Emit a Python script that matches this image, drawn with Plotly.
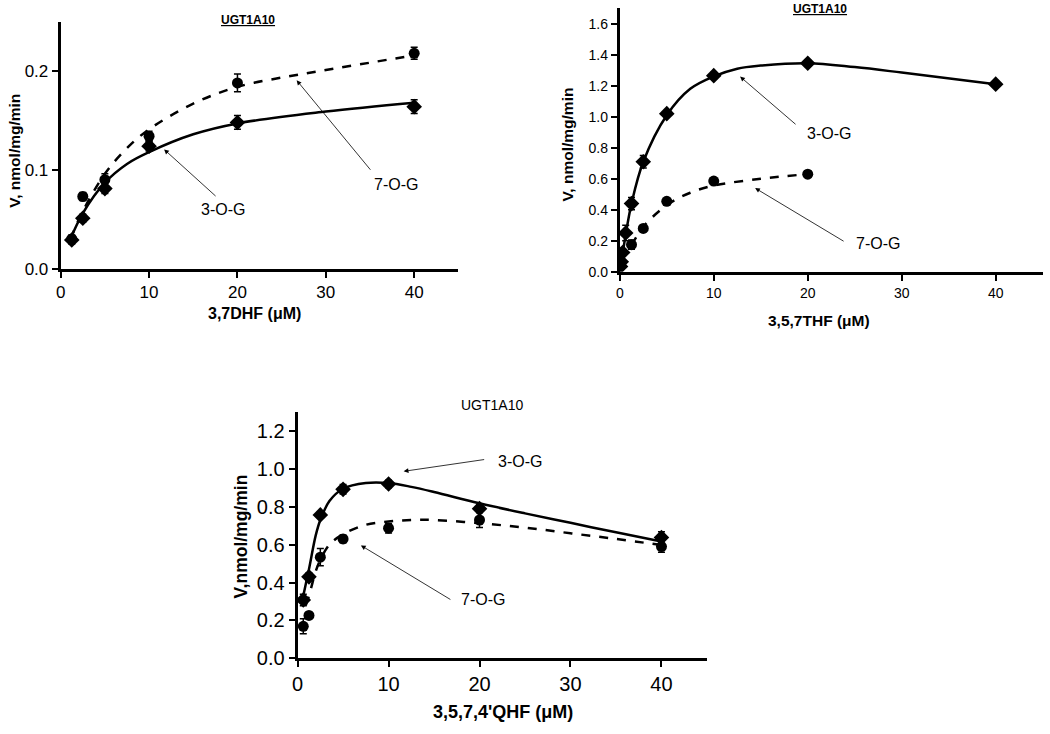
import plotly.graph_objects as go

# ---------------- Panel 1: 3,7DHF ----------------
p1_x = [1.25, 2.5, 5, 10, 20, 40]
p1_3OG = [0.029, 0.051, 0.081, 0.124, 0.148, 0.164]
p1_3OG_err = [0.004, 0.004, 0.005, 0.005, 0.007, 0.007]
p1_7OG = [0.030, 0.073, 0.090, 0.134, 0.188, 0.218]
p1_7OG_err = [0.004, 0.004, 0.006, 0.005, 0.009, 0.006]
p1_fit_x = [1.1, 2.5, 5, 7.5, 10, 15, 20, 30, 40]
p1_fit_3OG = [0.030, 0.056, 0.087, 0.106, 0.118, 0.136, 0.147, 0.159, 0.168]
p1_fit_7OG_x = [1.1, 2.5, 5, 7.5, 10, 15, 20, 26, 30, 40]
p1_fit_7OG = [0.030, 0.058, 0.096, 0.122, 0.141, 0.167, 0.184, 0.195, 0.201, 0.216]

# ---------------- Panel 2: 3,5,7THF ----------------
p2_x3 = [0.08, 0.16, 0.31, 0.63, 1.25, 2.5, 5, 10, 20, 40]
p2_3OG = [0.035, 0.065, 0.125, 0.25, 0.44, 0.71, 1.02, 1.265, 1.345, 1.21]
p2_3OG_err = [0.01, 0.01, 0.02, 0.05, 0.04, 0.04, 0.015, 0.02, 0.02, 0.01]
p2_x7 = [1.25, 2.5, 5, 10, 20]
p2_7OG = [0.175, 0.28, 0.455, 0.585, 0.63]
p2_7OG_err = [0.03, 0.015, 0.01, 0.01, 0.02]
p2_fit3_x = [0, 0.31, 0.63, 1.25, 2.5, 5, 7.5, 10, 12.5, 15, 20, 25, 30, 40]
p2_fit3 = [0.02, 0.12, 0.24, 0.44, 0.71, 1.01, 1.18, 1.26, 1.31, 1.33, 1.345, 1.32, 1.285, 1.21]
p2_fit7_x = [1.25, 2.5, 5, 7.5, 10, 15, 20]
p2_fit7 = [0.17, 0.29, 0.43, 0.51, 0.556, 0.60, 0.63]

# ---------------- Panel 3: 3,5,7,4'QHF ----------------
p3_x = [0.625, 1.25, 2.5, 5, 10, 20, 40]
p3_3OG = [0.308, 0.43, 0.757, 0.892, 0.92, 0.79, 0.638]
p3_3OG_err = [0.03, 0.02, 0.01, 0.025, 0.02, 0.02, 0.03]
p3_7OG = [0.169, 0.226, 0.534, 0.63, 0.687, 0.73, 0.59]
p3_7OG_err = [0.04, 0.015, 0.045, 0.02, 0.025, 0.04, 0.03]
p3_fit3_x = [0.45, 1.25, 2, 2.5, 3.5, 5, 7.5, 10, 12.5, 15, 20, 25, 30, 35, 40]
p3_fit3 = [0.29, 0.47, 0.65, 0.73, 0.83, 0.895, 0.925, 0.925, 0.905, 0.878, 0.818, 0.765, 0.715, 0.665, 0.617]
p3_fit7_x = [0.9, 1.25, 2, 2.5, 3.5, 5, 7.5, 10, 12.5, 15, 20, 25, 30, 35, 40]
p3_fit7 = [0.28, 0.33, 0.46, 0.52, 0.60, 0.655, 0.705, 0.722, 0.73, 0.73, 0.713, 0.69, 0.66, 0.63, 0.598]

ticks_x = [0, 10, 20, 30, 40]
p1_ticks_y = [0.0, 0.1, 0.2]
p2_ticks_y = [0.0, 0.2, 0.4, 0.6, 0.8, 1.0, 1.2, 1.4, 1.6]
p3_ticks_y = [0.0, 0.2, 0.4, 0.6, 0.8, 1.0, 1.2]

FONT = "Arial, Liberation Sans, sans-serif"
fig = go.Figure()


def add_panel(xa, ya, xs3, y3, e3, xs7, y7, e7, fx3, f3, fx7, f7):
    fig.add_trace(go.Scatter(x=fx3, y=f3, mode="lines", line=dict(color="black", width=2.5, shape="spline"),
                             xaxis=xa, yaxis=ya, showlegend=False, hoverinfo="skip"))
    fig.add_trace(go.Scatter(x=fx7, y=f7, mode="lines", line=dict(color="black", width=2.5, dash="dash", shape="spline"),
                             xaxis=xa, yaxis=ya, showlegend=False, hoverinfo="skip"))
    fig.add_trace(go.Scatter(x=xs3, y=y3, mode="markers", marker=dict(symbol="diamond", size=12, color="black"),
                             error_y=dict(type="data", array=e3, color="black", thickness=1.5, width=3.5),
                             xaxis=xa, yaxis=ya, showlegend=False))
    fig.add_trace(go.Scatter(x=xs7, y=y7, mode="markers", marker=dict(symbol="circle", size=11, color="black"),
                             error_y=dict(type="data", array=e7, color="black", thickness=1.5, width=3.5),
                             xaxis=xa, yaxis=ya, showlegend=False))


add_panel("x", "y", p1_x, p1_3OG, p1_3OG_err, p1_x, p1_7OG, p1_7OG_err,
          p1_fit_x, p1_fit_3OG, p1_fit_7OG_x, p1_fit_7OG)
add_panel("x2", "y2", p2_x3, p2_3OG, p2_3OG_err, p2_x7, p2_7OG, p2_7OG_err,
          p2_fit3_x, p2_fit3, p2_fit7_x, p2_fit7)
add_panel("x3", "y3", p3_x, p3_3OG, p3_3OG_err, p3_x, p3_7OG, p3_7OG_err,
          p3_fit3_x, p3_fit3, p3_fit7_x, p3_fit7)


def xaxis(domain, anchor, fs):
    return dict(domain=domain, anchor=anchor, range=[0, 45], tickvals=ticks_x, showline=True, linecolor="black",
                linewidth=3, ticks="outside", ticklen=6, tickwidth=2, tickcolor="black", showgrid=False,
                zeroline=False, tickfont=dict(family=FONT, size=fs, color="black"))


def yaxis(domain, anchor, rng, tv, fs):
    return dict(domain=domain, anchor=anchor, range=rng, tickvals=tv, tickformat=".1f", showline=True,
                linecolor="black", linewidth=3, ticks="outside", ticklen=6, tickwidth=2, tickcolor="black",
                showgrid=False, zeroline=False, tickfont=dict(family=FONT, size=fs, color="black"))


fig.update_layout(
    width=1050, height=734, margin=dict(l=0, r=0, t=0, b=0),
    paper_bgcolor="white", plot_bgcolor="white",
    xaxis=xaxis([0.0524, 0.4333], "y", 17),
    yaxis=yaxis([0.6285, 0.970], "x", [0, 0.25], p1_ticks_y, 17),
    xaxis2=xaxis([0.5879, 0.9930], "y2", 14),
    yaxis2=yaxis([0.6240, 0.9887], "x2", [0, 1.7], p2_ticks_y, 14),
    xaxis3=xaxis([0.2793, 0.6714], "y3", 20),
    yaxis3=yaxis([0.0895, 0.4301], "x3", [0, 1.3], p3_ticks_y, 20),
)

ann = []


def text(x, y, s, size=15, bold=False, angle=0, under=False, yanchor="middle"):
    t = s
    if bold:
        t = "<b>" + t + "</b>"
    if under:
        t = "<u>" + t + "</u>"
    ann.append(dict(x=x / 1050, y=1 - y / 734, xref="paper", yref="paper", text=t, showarrow=False,
                    textangle=angle, font=dict(family=FONT, size=size, color="black"),
                    xanchor="center", yanchor=yanchor))


def arrow(xr, yr, hx, hy, ax, ay):
    ann.append(dict(x=hx, y=hy, xref=xr, yref=yr, ax=ax, ay=ay, axref="pixel", ayref="pixel", text="",
                    showarrow=True, arrowhead=2, arrowsize=1.2, arrowwidth=0.8, arrowcolor="black"))


# Panel 1 labels
text(243, 11, "UGT1A10", size=12, bold=True, under=True, yanchor="top")
text(250, 318, "3,7DHF (μM)", size=16, bold=True)
text(9, 153, "V, nmol/mg/min", size=15.5, bold=True, angle=-90)
text(392, 187, "7-O-G", size=16)
text(218, 213, "3-O-G", size=16)
arrow("x", "y", 26.7, 0.1907, 75, 91)
arrow("x", "y", 11.7, 0.1207, 53, 48)

# Panel 2 labels
text(819, 0, "UGT1A10", size=12, bold=True, under=True, yanchor="top")
text(818, 325, "3,5,7THF (μM)", size=15.5, bold=True)
text(565, 147, "V, nmol/mg/min", size=15.5, bold=True, angle=-90)
text(828, 136, "3-O-G", size=16)
text(877, 247, "7-O-G", size=16)
arrow("x2", "y2", 12.8, 1.259, 57, 49)
arrow("x2", "y2", 14.4, 0.54, 90, 54)

# Panel 3 labels
text(489, 411, "UGT1A10", size=14)
text(500, 723, "3,5,7,4'QHF (μM)", size=18, bold=True)
text(236, 545, "V,nmol/mg/min", size=17.5, bold=True, angle=-90)
text(517, 469, "3-O-G", size=16)
text(480, 609, "7-O-G", size=16)
arrow("x3", "y3", 11.66, 0.987, 82, -12)
arrow("x3", "y3", 6.96, 0.596, 91, 55)

fig.update_layout(annotations=ann)
fig.write_html("out.html", config={"displayModeBar": False},
               post_script="document.body.style.margin='0px';document.body.style.overflow='hidden';")
